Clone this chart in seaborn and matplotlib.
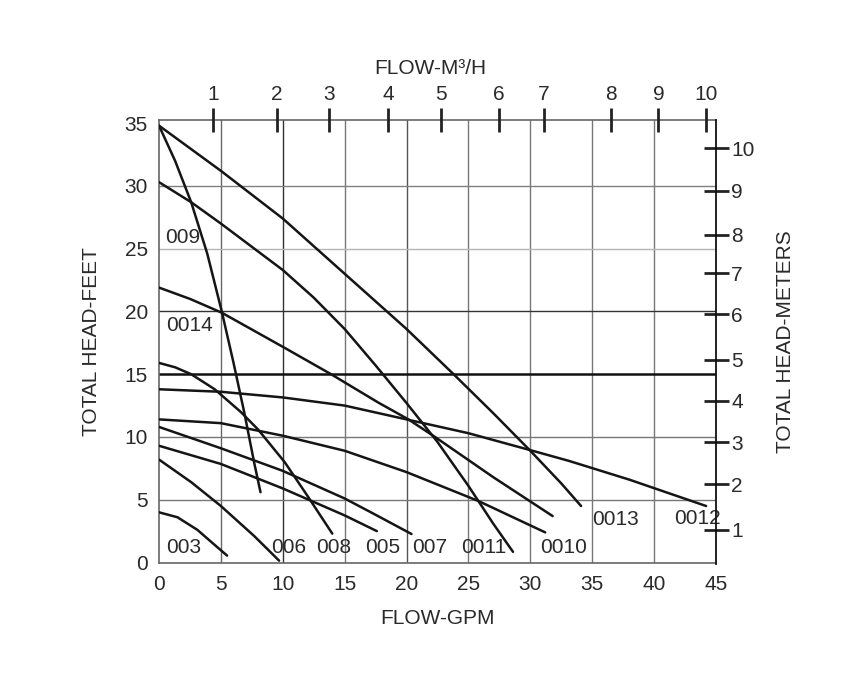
import numpy as np
import pandas as pd
import matplotlib
matplotlib.use("Agg")
import matplotlib.pyplot as plt
import seaborn as sns

# ---------------- data ----------------
c003_gpm = [0, 1.5, 3.1, 4.5, 5.5]
c003_ft = [4.0, 3.6, 2.6, 1.4, 0.55]

c006_gpm = [0, 2.6, 5.0, 7.7, 9.7]
c006_ft = [8.2, 6.4, 4.5, 2.1, 0.15]

c008_gpm = [0, 1.3, 2.6, 4.5, 6.6, 8.0, 10.15, 12.0, 14.0]
c008_ft = [15.9, 15.55, 15.0, 13.8, 12.0, 10.6, 8.0, 5.3, 2.3]

c005_gpm = [0, 5, 10, 15, 17.6]
c005_ft = [9.3, 7.85, 5.9, 3.75, 2.5]

c007_gpm = [0, 5, 10, 15, 17.5, 20.4]
c007_ft = [10.8, 9.1, 7.3, 5.1, 3.8, 2.27]

c0010_gpm = [0, 5, 10, 15, 20, 25.8, 31.2]
c0010_ft = [11.4, 11.1, 10.1, 8.9, 7.2, 4.9, 2.4]

c0012_gpm = [0, 5, 10, 15, 20, 25, 30, 33.1, 38, 44.2]
c0012_ft = [13.8, 13.6, 13.15, 12.5, 11.4, 10.3, 8.95, 8.1, 6.6, 4.5]

c0014_gpm = [0, 2.5, 5.07, 10.15, 13.9, 17.7, 20.15, 22.3, 27.0, 31.8]
c0014_ft = [21.9, 21.0, 19.9, 17.1, 15.0, 12.75, 11.4, 10.0, 6.8, 3.7]

c0011_gpm = [0, 2.6, 5, 10, 12.5, 15, 17.5, 20, 22.5, 25, 27, 28.6]
c0011_ft = [30.3, 28.7, 27.0, 23.3, 21.1, 18.6, 15.7, 12.7, 9.6, 6.1, 3.1, 0.85]

c0013_gpm = [0, 5, 10, 15, 20, 23.8, 27, 30, 32.5, 34.1]
c0013_ft = [34.8, 31.2, 27.4, 23.0, 18.6, 15.0, 11.9, 8.9, 6.3, 4.5]

c009_gpm = [0, 1.3, 2.6, 3.9, 5.07, 6.0, 6.9, 7.7, 8.2]
c009_ft = [34.8, 32.0, 28.7, 24.6, 20.0, 16.0, 11.9, 7.9, 5.6]

curve_names = ["003", "006", "008", "005", "007", "0010", "0012",
               "0014", "0011", "0013", "009"]
curve_gpm = [c003_gpm, c006_gpm, c008_gpm, c005_gpm, c007_gpm, c0010_gpm,
             c0012_gpm, c0014_gpm, c0011_gpm, c0013_gpm, c009_gpm]
curve_ft = [c003_ft, c006_ft, c008_ft, c005_ft, c007_ft, c0010_ft,
            c0012_ft, c0014_ft, c0011_ft, c0013_ft, c009_ft]

# curve label positions (GPM, feet)
label_text = ["003", "006", "008", "005", "007", "0011", "0010", "0013",
              "0012", "009", "0014"]
label_x = [2.0, 10.5, 14.1, 18.1, 21.9, 26.25, 32.7, 36.9, 43.5, 1.9, 2.5]
label_y = [1.2, 1.2, 1.2, 1.2, 1.2, 1.2, 1.2, 3.4, 3.5, 25.9, 18.9]

# axes ticks
gpm_ticks = [0, 5, 10, 15, 20, 25, 30, 35, 40, 45]
feet_ticks = [0, 5, 10, 15, 20, 25, 30, 35]
m3h_labels = ["1", "2", "3", "4", "5", "6", "7", "8", "9", "10"]
m3h_pos_gpm = [4.4, 9.5, 13.7, 18.5, 22.8, 27.45, 31.1, 36.5, 40.35, 44.2]
meter_labels = ["1", "2", "3", "4", "5", "6", "7", "8", "9", "10"]
meter_pos_ft = [2.61, 6.25, 9.57, 12.88, 16.15, 19.78, 23.03, 26.1, 29.6, 32.98]

# ---------------- style ----------------
sns.set_theme(style="white")
plt.rcParams["font.family"] = ["Liberation Sans", "DejaVu Sans"]

TXT = "#2a2a2a"
FS = 15

fig = plt.figure(figsize=(8.56, 6.81), dpi=100)
ax = fig.add_axes([159 / 856, 1 - 562.5 / 681, (716 - 159) / 856, (562.5 - 120) / 681])

rows = []
for name, xs, ys in zip(curve_names, curve_gpm, curve_ft):
    for x, y in zip(xs, ys):
        rows.append({"curve": name, "gpm": x, "ft": y})
df = pd.DataFrame(rows)

XMAX = 45
YMAX = 35.25

# grid (colours vary like the printed chart)
vgrid_col = {5: "#666666", 10: "#333333", 15: "#777777", 20: "#555555",
             25: "#777777", 30: "#777777", 35: "#777777", 40: "#777777"}
for v in gpm_ticks[1:-1]:
    ax.axvline(v, color=vgrid_col[v], lw=1.0, zorder=1)
hgrid_col = {5: "#777777", 10: "#777777", 20: "#333333", 25: "#b5b5b5", 30: "#808080"}
for v in [5, 10, 20, 25, 30]:
    ax.axhline(v, color=hgrid_col[v], lw=1.0, zorder=1)
ax.axhline(15, color="#111111", lw=1.8, zorder=1)

sns.lineplot(data=df, x="gpm", y="ft", hue="curve", units="curve",
             estimator=None, sort=False,
             palette={n: "#151515" for n in curve_names},
             linewidth=1.8, legend=False, ax=ax, zorder=3)

ax.set_xlim(0, XMAX)
ax.set_ylim(0, YMAX)
ax.set_xticks(gpm_ticks)
ax.set_yticks(feet_ticks)
ax.tick_params(axis="both", length=0, labelsize=FS, labelcolor=TXT)
ax.tick_params(axis="x", pad=9)
ax.tick_params(axis="y", pad=8)
ax.set_xlabel("FLOW-GPM", fontsize=FS, color=TXT)
ax.set_ylabel("TOTAL HEAD-FEET", fontsize=FS, color=TXT)
ax.xaxis.set_label_coords(0.5, -0.105)
ax.yaxis.set_label_coords(-0.104, 0.5)
for s in ["left", "bottom", "top"]:
    ax.spines[s].set_color("#666666")
    ax.spines[s].set_linewidth(1.2)
ax.spines["right"].set_visible(False)

for t, x, y in zip(label_text, label_x, label_y):
    ax.text(x, y, t, fontsize=FS, color=TXT, ha="center", va="center", zorder=4)

# right axis (meters)
axr = ax.twinx()
axr.set_ylim(0, YMAX)
axr.set_yticks(meter_pos_ft)
axr.set_yticklabels(meter_labels)
axr.tick_params(axis="y", direction="inout", length=18, width=2.0, color="#222222",
                labelsize=FS, labelcolor=TXT, pad=2)
axr.set_ylabel("TOTAL HEAD-METERS", fontsize=FS, color=TXT, rotation=90)
axr.yaxis.set_label_coords(1.108, 0.5)
for s in ["left", "bottom", "top"]:
    axr.spines[s].set_visible(False)
axr.spines["right"].set_color("#111111")
axr.spines["right"].set_linewidth(1.3)
axr.spines["right"].set_bounds(-0.15, YMAX)
axr.grid(False)

# top axis (m3/h)
axt = ax.twiny()
axt.set_xlim(0, XMAX)
axt.set_xticks(m3h_pos_gpm)
axt.set_xticklabels(m3h_labels)
axt.tick_params(axis="x", direction="inout", length=17, width=2.0, color="#222222",
                labelsize=FS, labelcolor=TXT, pad=3)
for s in ["left", "bottom", "right", "top"]:
    axt.spines[s].set_visible(False)
axt.grid(False)
fig.text(430 / 856, 1 - 69 / 681, "FLOW-M\u00b3/H", fontsize=FS, color=TXT,
         ha="center", va="center")

fig.savefig("out.png", dpi=100, facecolor="white")
